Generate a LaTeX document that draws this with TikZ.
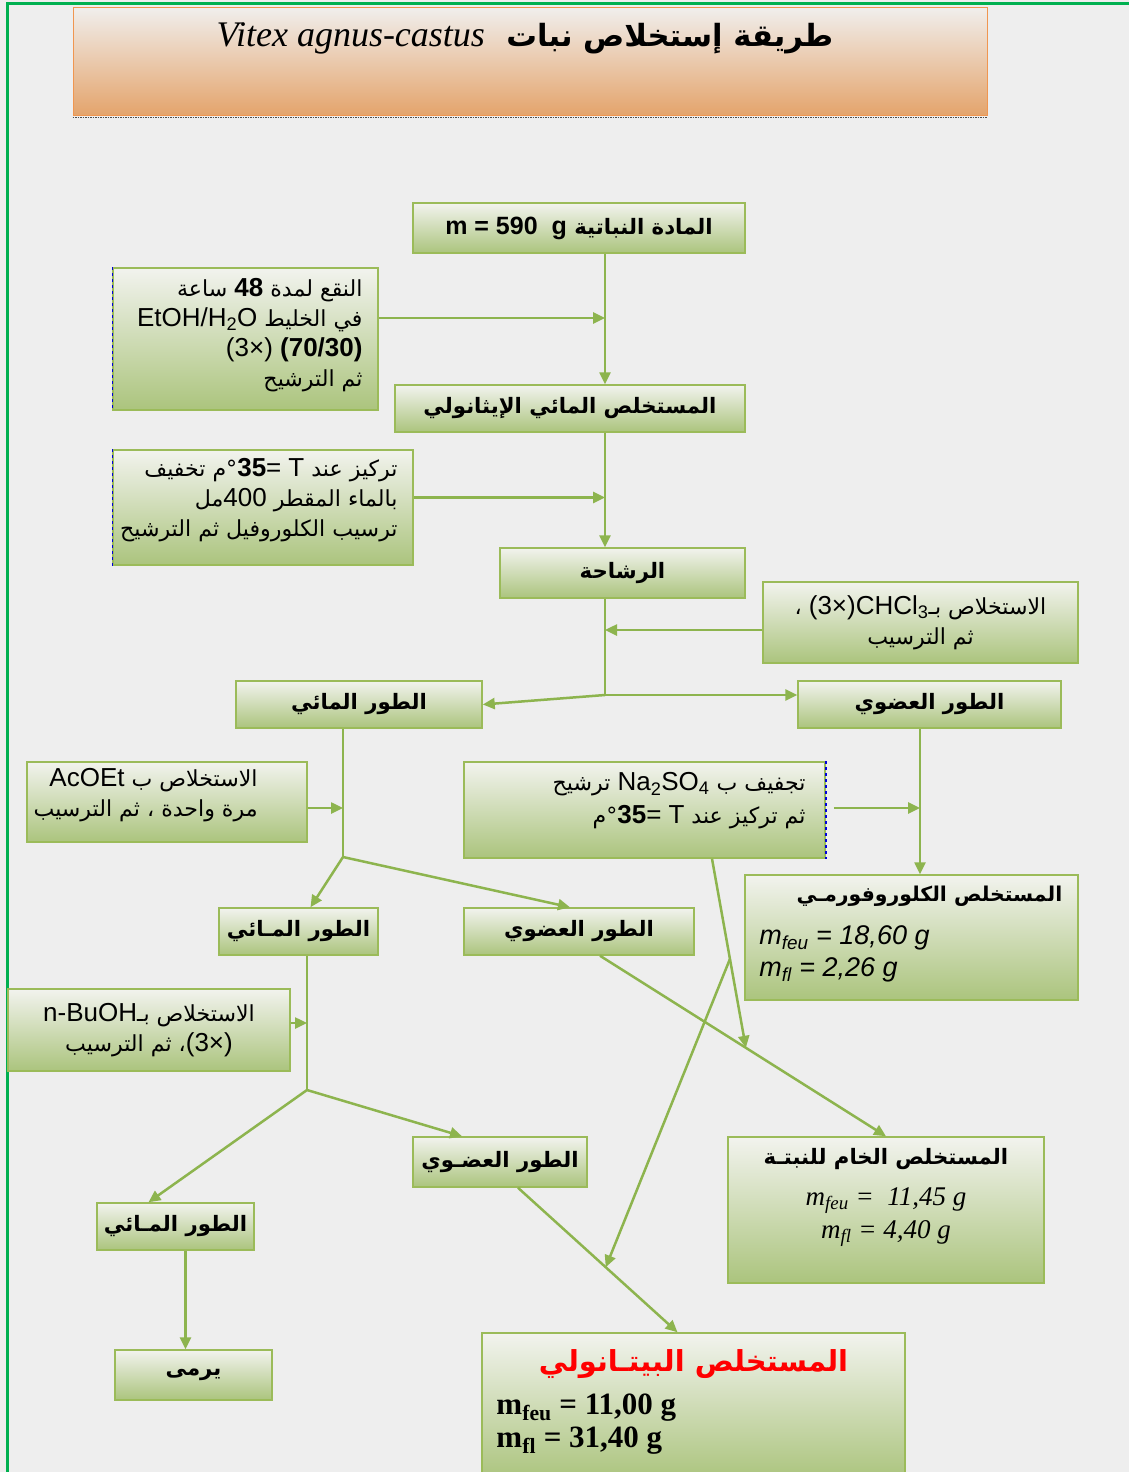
\documentclass[tikz,border=0pt]{standalone}
\usepackage{fontspec}
\setmainfont{Liberation Sans}
\newfontfamily\arfont[Script=Arabic,Scale=0.85]{DejaVu Sans}
\newfontfamily\serfont{Liberation Serif}
\TeXXeTstate=1
\usetikzlibrary{positioning,arrows.meta,calc}
\definecolor{bg}{RGB}{238,238,238}
\definecolor{frame}{RGB}{0,176,80}
\definecolor{boxtop}{RGB}{242,243,238}
\definecolor{boxbot}{RGB}{171,196,125}
\definecolor{boxline}{RGB}{155,187,89}
\definecolor{linkcol}{RGB}{141,180,78}
\definecolor{titletop}{RGB}{240,238,236}
\definecolor{titlebot}{RGB}{228,164,108}
\definecolor{titleline}{RGB}{240,150,80}
\newcommand{\artxt}[1]{{\arfont\beginR #1\endR}}
\newcommand{\latxt}[1]{\beginL{\rmfamily #1}\endL}
\tikzset{
	box/.style={draw=boxline, line width=1.5pt, top color=boxtop, bottom color=boxbot, inner sep=0pt, font=\fontsize{26}{30}\selectfont},
	head/.style={box, font=\fontsize{25}{30}\selectfont\bfseries},
	txt/.style={inner sep=0pt, font=\fontsize{26}{30}\selectfont},
	link/.style={draw=linkcol, line width=2.5pt, -{Triangle[length=12pt,width=11pt]}},
	feed/.style={draw=linkcol, line width=2pt},
	blueedge/.style={draw=blue!85!black, dashed, line width=1.5pt}
}

\begin{document}
\begin{tikzpicture}[x=1pt,y=-1pt]
	\useasboundingbox (0,0) rectangle (1129,1472);
	\fill[bg] (0,0) rectangle (1129,1472);
	\draw[frame, line width=3pt] (7,1472) -- (7,4) -- (1129,4);

	\node[draw=titleline, line width=1pt, top color=titletop, bottom color=titlebot, minimum width=914pt, minimum height=107pt, inner sep=0pt] (title) at (530,61.5) {};
	\node[txt, font=\fontsize{36}{40}\selectfont, below=15pt of title.north, xshift=-5pt] (title-t) {\artxt{\bfseries طريقة إستخلاص نبات \ \latxt{\serfont\itshape\mdseries Vitex agnus-castus}}};
	\draw[densely dotted, black!70, line width=1.5pt] ([yshift=-2pt]title.south west) -- ([yshift=-2pt]title.south east);

	\node[head, minimum width=332pt, minimum height=50pt] (plant) at (579,228) {\artxt{المادة النباتية \latxt{m = 590 \ g}}};
	\node[box, minimum width=265pt, minimum height=142pt] (soak) at (245.5,339) {};
	\node[txt, align=right, left=16pt of soak.east, yshift=4pt] (soak-t) {\artxt{النقع لمدة \latxt{\textbf{48}} ساعة}\\ \artxt{في الخليط \latxt{EtOH/H\textsubscript{2}O}}\\ \latxt{(3×) \textbf{(70/30)}}\\ \artxt{ثم الترشيح}};
	\node[head, minimum width=350pt, minimum height=47pt] (ethan) at (570,408.5) {\artxt{المستخلص المائي الإيثانولي}};
	\node[box, minimum width=300pt, minimum height=115pt] (conc) at (263,507.5) {};
	\node[txt, align=right, left=16pt of conc.east, yshift=7pt] (conc-t) {\artxt{تركيز عند \latxt{T} \latxt{=}\latxt{\textbf{35}}°م تخفيف}\\ \artxt{بالماء المقطر \latxt{400}مل}\\ \artxt{ترسيب الكلوروفيل ثم الترشيح}};
	\node[head, minimum width=245pt, minimum height=50pt] (filtr) at (622.5,573) {\artxt{الرشاحة}};
	\node[box, minimum width=315pt, minimum height=81pt, align=center] (chlo) at (920.5,622.5) {\artxt{الاستخلاص بـ\latxt{CHCl\textsubscript{3}}\latxt{(3×)} ،}\\ \artxt{ثم الترسيب}};
	\node[head, minimum width=246pt, minimum height=47pt] (aq1) at (359,704.5) {\artxt{الطور المائي}};
	\node[head, minimum width=263pt, minimum height=47pt] (org1) at (929.5,704.5) {\artxt{الطور العضوي}};
	\node[box, minimum width=280pt, minimum height=80pt] (acoet) at (167,802) {};
	\node[txt, align=right, left=50pt of acoet.east, yshift=7pt] (acoet-t) {\artxt{الاستخلاص ب \latxt{AcOEt}}\\ \artxt{مرة واحدة ، ثم الترسيب}};
	\node[box, minimum width=361pt, minimum height=96pt] (dry) at (644.5,810) {};
	\node[txt, align=right, font=\fontsize{26}{33}\selectfont, left=20pt of dry.east, yshift=9pt] (dry-t) {\artxt{تجفيف ب \latxt{Na\textsubscript{2}SO\textsubscript{4}} ترشيح}\\ \artxt{ثم تركيز عند \latxt{T} \latxt{=}\latxt{\textbf{35}}°م}};
	\node[box, minimum width=333pt, minimum height=125pt] (cext) at (911.5,937.5) {};
	\node[txt, font=\fontsize{24}{30}\selectfont\bfseries, below=12pt of cext.north, xshift=18pt] (cext-t) {\artxt{المستخلص الكلوروفورمـي}};
	\node[txt, align=left, font=\fontsize{27}{32}\selectfont\itshape, below right=51pt and 15pt of cext.north west] (cext-m) {m\textsubscript{feu} = 18,60 g\\ m\textsubscript{fl} = 2,26 g};
	\node[head, minimum width=159pt, minimum height=47pt] (aq2) at (298.5,931.5) {\artxt{الطور المـائي}};
	\node[head, minimum width=230pt, minimum height=47pt] (org2) at (579,931.5) {\artxt{الطور العضوي}};
	\node[box, minimum width=282pt, minimum height=82pt, align=center] (buoh) at (149,1030) {\artxt{الاستخلاص بـ\latxt{n-BuOH}}\\ \artxt{\latxt{(3×)}، ثم الترسيب}};
	\node[head, minimum width=174pt, minimum height=50pt] (org3) at (500,1162) {\artxt{الطور العضـوي}};
	\node[head, minimum width=157pt, minimum height=47pt] (aq3) at (175.5,1226.5) {\artxt{الطور المـائي}};
	\node[box, minimum width=316pt, minimum height=146pt] (crude) at (886,1210) {};
	\node[txt, font=\fontsize{25}{30}\selectfont\bfseries, below=12pt of crude.north] (crude-t) {\artxt{المستخلص الخام للنبتـة}};
	\node[txt, align=center, font=\serfont\itshape\fontsize{27}{33}\selectfont, below=17pt of crude-t] (crude-m) {m\textsubscript{feu} = \ 11,45 g\\ m\textsubscript{fl} = 4,40 g};
	\node[head, minimum width=157pt, minimum height=50pt] (resid) at (193.5,1375) {\artxt{يرمى}};
	\node[box, minimum width=423pt, minimum height=147pt] (but) at (693.5,1406.5) {};
	\node[txt, text=red, font=\fontsize{34}{40}\selectfont\bfseries, below=17pt of but.north] (but-t) {\artxt{المستخلص البيتـانولي}};
	\node[txt, align=left, font=\serfont\bfseries\fontsize{31}{33}\selectfont, below right=61pt and 15pt of but.north west] (but-m) {m\textsubscript{feu} = 11,00 g\\ m\textsubscript{fl} = 31,40 g};

	\draw[blueedge] (soak.north west) -- (soak.south west);
	\draw[blueedge] (conc.north west) -- (conc.south west);
	\draw[blueedge] (dry.north east) -- (dry.south east);

	\coordinate (trunk) at (605,0);
	\coordinate (j1) at (605,695);
	\coordinate (j2) at (343,857);
	\coordinate (t2) at (920,0);
	\coordinate (j3) at (307,1090);
	\draw[link] (plant.south -| trunk) -- (ethan.north -| trunk);
	\draw[link] ([yshift=21pt]soak.east) -- ([yshift=21pt]soak.east -| trunk);
	\draw[link] (ethan.south -| trunk) -- (filtr.north -| trunk);
	\draw[link] ([yshift=10pt]conc.east) -- ([yshift=10pt]conc.east -| trunk);
	\draw[feed] (filtr.south -| trunk) -- (j1);
	\draw[link] ([yshift=-7.5pt]chlo.west) -- ([yshift=-7.5pt]chlo.west -| trunk);
	\draw[link] (j1) -- (aq1.east);
	\draw[link] (j1) -- (org1.west |- j1);
	\draw[feed] (aq1.south -| j2) -- (j2);
	\draw[link] ([yshift=-6pt]acoet.east) -- ([yshift=-6pt]acoet.east -| j2);
	\draw[link] (j2) -- ([xshift=12pt]aq2.north);
	\draw[link] (j2) -- ([xshift=-9pt]org2.north);
	\draw[link] (org1.south -| t2) -- (cext.north -| t2);
	\draw[link] ([xshift=8pt,yshift=2pt]dry.east) -- ([yshift=2pt]dry.east -| t2);
	\draw[feed] (aq2.south -| j3) -- (j3);
	\draw[link] ([yshift=7pt]buoh.east) -- ([yshift=7pt]buoh.east -| j3);
	\draw[link] (j3) -- ([xshift=-27pt]aq3.north);
	\draw[link] (j3) -- ([xshift=-38pt]org3.north);
	\draw[link] ([xshift=10pt]aq3.south) -- ([xshift=10pt]aq3.south |- resid.north);
	\draw[link] ([xshift=18pt]org3.south) -- ([xshift=-16pt]but.north);
	\draw[link] ([xshift=21pt]org2.south) -- (crude.north);
	\coordinate (m1) at ($([xshift=21pt]org2.south)!0.51!(crude.north)$);
	\coordinate (m2) at ($([xshift=18pt]org3.south)!0.55!([xshift=-16pt]but.north)$);
	\draw[link] ([xshift=67.5pt]dry.south) -- (m1);
	\coordinate (m3) at ($([xshift=67.5pt]dry.south)!0.53!(m1)$);
	\draw[link] (m3) -- (m2);
\end{tikzpicture}
\end{document}
